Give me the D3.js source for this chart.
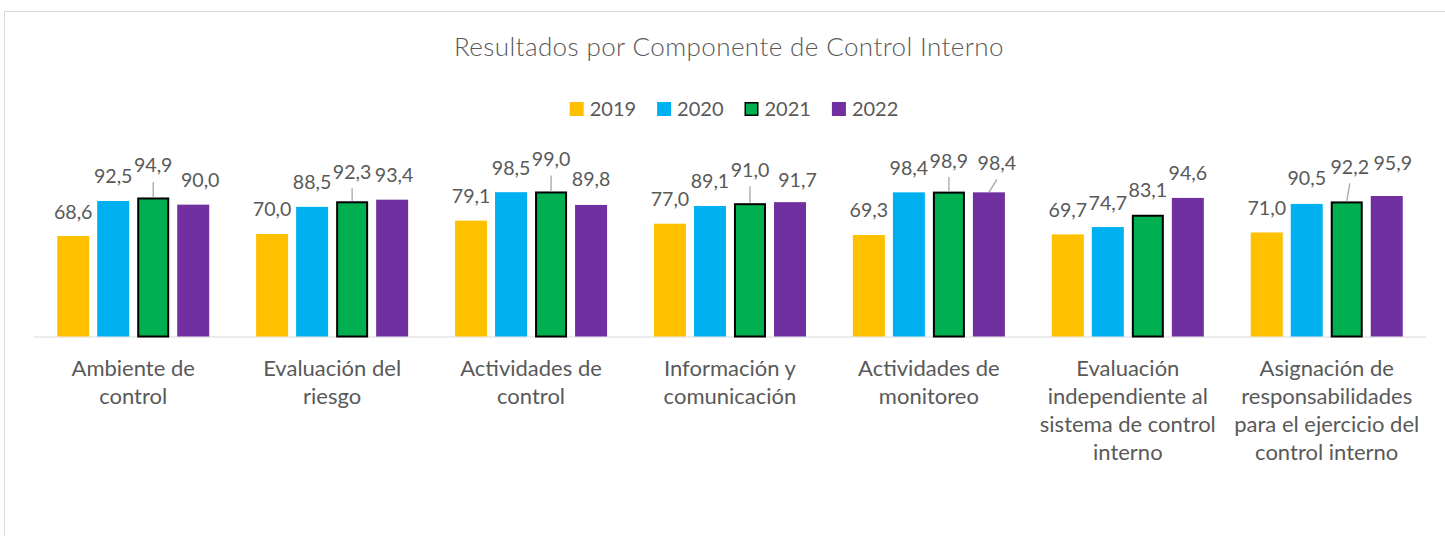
<!DOCTYPE html>
<html>
<head>
<meta charset="utf-8">
<script src="https://cdn.jsdelivr.net/npm/d3@7"></script>
<style>
  html, body { margin: 0; padding: 0; background: #fff; }
  svg { display: block; }
  text { font-family: Lato, "Open Sans", sans-serif; fill: #595959; }
</style>
</head>
<body>
<svg id="chart" width="1445" height="536"></svg>
<script>
// ---- data ----
const categories = [
  "Ambiente de\ncontrol",
  "Evaluación del\nriesgo",
  "Actividades de\ncontrol",
  "Información y\ncomunicación",
  "Actividades de\nmonitoreo",
  "Evaluación\nindependiente al\nsistema de control\ninterno",
  "Asignación de\nresponsabilidades\npara el ejercicio del\ncontrol interno"
];
const years = ["2019", "2020", "2021", "2022"];
const v2019 = [68.6, 70.0, 79.1, 77.0, 69.3, 69.7, 71.0];
const v2020 = [92.5, 88.5, 98.5, 89.1, 98.4, 74.7, 90.5];
const v2021 = [94.9, 92.3, 99.0, 91.0, 98.9, 83.1, 92.2];
const v2022 = [90.0, 93.4, 89.8, 91.7, 98.4, 94.6, 95.9];
const series = [v2019, v2020, v2021, v2022];
const titleText = "Resultados por Componente de Control Interno";

// ---- layout / style ----
const colors = ["#FFC000", "#00B0F0", "#00B050", "#7030A0"];
const outlined = [false, false, true, false];
// manual data-label nudges [dx, dy, leaderLine]
const labelNudge = [
  [[0,0],[0,0],[0,-7.5,1],[7,0]],
  [[0,0],[0,0],[0,-5,1],[2,0]],
  [[0,0],[0,0],[0,-8,1],[0,-1]],
  [[0,0],[0,0],[0,-9,1],[7.5,2]],
  [[0,0],[0,0],[0,-6.5,1],[8,-5,1]],
  [[0,0],[0,0],[0,0],[0,0]],
  [[0,0],[0,-1],[3,-10,1],[6,-8.5]]
];

const svg = d3.select("#chart");
const plot = { left: 33.75, right: 1426.2, top: 190, bottom: 336.5 };

// frame
svg.append("rect")
  .attr("x", 4.5).attr("y", 11.5)
  .attr("width", 1460).attr("height", 560)
  .attr("fill", "none").attr("stroke", "#d9d9d9").attr("stroke-width", 1);

const x0 = d3.scaleBand().domain(d3.range(categories.length))
  .range([plot.left, plot.right]).paddingInner(0).paddingOuter(0);
const x1 = d3.scaleBand().domain(d3.range(years.length))
  .range([0, x0.bandwidth()]).paddingInner(0.2).paddingOuter(0.586);
const y = d3.scaleLinear().domain([0, 100]).range([plot.bottom, plot.top]);

const locale = d3.formatLocale({ decimal: ",", thousands: ".", grouping: [3], currency: ["", ""] });
const fmt = locale.format(".1f");

// title
svg.append("text")
  .attr("x", 729).attr("y", 56)
  .attr("text-anchor", "middle")
  .style("font-size", "26px")
  .style("font-weight", 300)
  .style("letter-spacing", "0.4px")
  .text(titleText);

// legend
const legend = svg.append("g");
const legendFont = 20;
let lx = 0;
years.forEach((yr, i) => {
  const g = legend.append("g");
  g.append("rect")
    .attr("x", outlined[i] ? lx + 0.75 : lx)
    .attr("y", outlined[i] ? 102.75 : 102)
    .attr("width", outlined[i] ? 12.5 : 14)
    .attr("height", outlined[i] ? 12.5 : 14)
    .attr("fill", colors[i])
    .attr("stroke", outlined[i] ? "#000" : "none")
    .attr("stroke-width", 1.5);
  const t = g.append("text")
    .attr("x", lx + 20).attr("y", 116)
    .style("font-size", legendFont + "px")
    .text(yr);
  const w = t.node().getComputedTextLength();
  lx += 20 + w + 21;
});
const legendWidth = lx - 21;
legend.attr("transform", `translate(${734 - legendWidth / 2},0)`);

// baseline
svg.append("line")
  .attr("x1", plot.left).attr("x2", plot.right)
  .attr("y1", plot.bottom + 0.5).attr("y2", plot.bottom + 0.5)
  .attr("stroke", "#d9d9d9").attr("stroke-width", 1);

// bars
const groups = svg.append("g").selectAll("g")
  .data(categories).join("g")
  .attr("transform", (d, ci) => `translate(${x0(ci)},0)`);

groups.each(function(cat, ci) {
  const g = d3.select(this);
  series.forEach((vals, si) => {
    const v = vals[ci];
    const bx = x1(si), bw = x1.bandwidth();
    const top = y(v);
    if (outlined[si]) {
      g.append("rect")
        .attr("x", bx + 1).attr("y", top + 1)
        .attr("width", bw - 2).attr("height", y(0) - top - 1)
        .attr("fill", colors[si])
        .attr("stroke", "#000").attr("stroke-width", 2);
    } else {
      g.append("rect")
        .attr("x", bx).attr("y", top)
        .attr("width", bw).attr("height", y(0) - top)
        .attr("fill", colors[si]);
    }
    const nudge = labelNudge[ci][si];
    const cx = bx + bw / 2;
    const lxp = cx + nudge[0];
    const ly = top - 17.5 + nudge[1];
    if (nudge[2]) {
      g.append("line")
        .attr("x1", lxp).attr("y1", ly + 9.5)
        .attr("x2", cx).attr("y2", top)
        .attr("stroke", "#a6a6a6").attr("stroke-width", 1.3);
    }
    g.append("text")
      .attr("x", lxp).attr("y", ly)
      .attr("text-anchor", "middle")
      .style("font-size", "19.6px")
      .text(fmt(v));
  });
  // category label
  const lines = cat.split("\n");
  const t = g.append("text")
    .attr("text-anchor", "middle")
    .style("font-size", "22px");
  lines.forEach((ln, k) => {
    t.append("tspan")
      .attr("x", x0.bandwidth() / 2)
      .attr("y", 376 + k * 28)
      .text(ln);
  });
});
</script>
</body>
</html>
